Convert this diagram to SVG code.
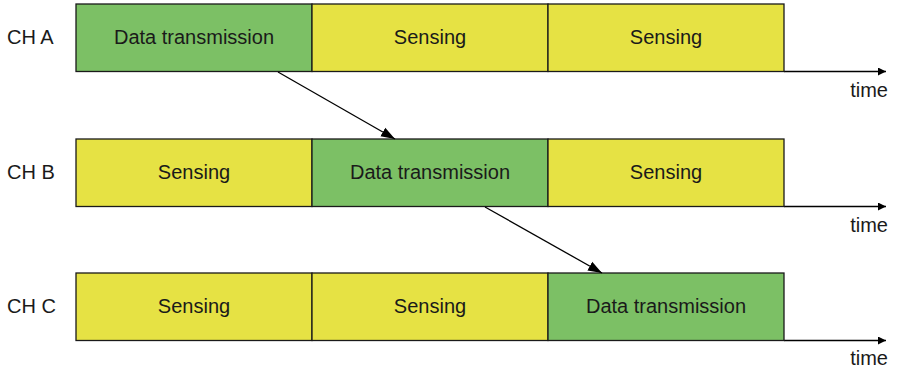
<svg xmlns="http://www.w3.org/2000/svg" width="897" height="372" viewBox="0 0 897 372">
<style>
text{font-family:"Liberation Sans",Arial,sans-serif;font-size:20px;fill:#1a1a1a}
.c{text-anchor:middle}
.g{fill:#7cc065;stroke:#1a1a1a;stroke-width:1.3}
.y{fill:#e6e244;stroke:#1a1a1a;stroke-width:1.3}
.ax{stroke:#000;stroke-width:1.5;fill:none}
.ar{stroke:#000;stroke-width:1.3;fill:none}
</style>
<defs>
<marker id="m" viewBox="0 0 10 10" refX="10" refY="5" markerWidth="8" markerHeight="8" markerUnits="userSpaceOnUse" orient="auto"><path d="M0,0L10,5L0,10z" fill="#000"/></marker>
<marker id="ma" viewBox="0 0 10 10" refX="10" refY="5" markerWidth="14" markerHeight="14" markerUnits="userSpaceOnUse" orient="auto"><path d="M0,1.5L10,5L0,8.5z" fill="#000"/></marker>
</defs>
<g id="axes">
<line class="ax" x1="784" y1="71.5" x2="886" y2="71.5" marker-end="url(#m)"/>
<line class="ax" x1="784" y1="206.5" x2="886" y2="206.5" marker-end="url(#m)"/>
<line class="ax" x1="784" y1="340.5" x2="886" y2="340.5" marker-end="url(#m)"/>
<text x="888" y="97" text-anchor="end">time</text>
<text x="888" y="232" text-anchor="end">time</text>
<text x="888" y="365" text-anchor="end">time</text>
</g>
<g id="chA">
<text x="7" y="44">CH A</text>
<rect class="g" x="76" y="4" width="236" height="67.5"/>
<rect class="y" x="312" y="4" width="236" height="67.5"/>
<rect class="y" x="548" y="4" width="236" height="67.5"/>
<text class="c" x="194" y="44">Data transmission</text>
<text class="c" x="430" y="44">Sensing</text>
<text class="c" x="666" y="44">Sensing</text>
</g>
<g id="chB">
<text x="7" y="179">CH B</text>
<rect class="y" x="76" y="139" width="236" height="67.5"/>
<rect class="g" x="312" y="139" width="236" height="67.5"/>
<rect class="y" x="548" y="139" width="236" height="67.5"/>
<text class="c" x="194" y="179">Sensing</text>
<text class="c" x="430" y="179">Data transmission</text>
<text class="c" x="666" y="179">Sensing</text>
</g>
<g id="chC">
<text x="7" y="313">CH C</text>
<rect class="y" x="76" y="273" width="236" height="67.5"/>
<rect class="y" x="312" y="273" width="236" height="67.5"/>
<rect class="g" x="548" y="273" width="236" height="67.5"/>
<text class="c" x="194" y="313">Sensing</text>
<text class="c" x="430" y="313">Sensing</text>
<text class="c" x="666" y="313">Data transmission</text>
</g>
<g id="connectors">
<line class="ar" x1="278" y1="72" x2="395" y2="139" marker-end="url(#ma)"/>
<line class="ar" x1="485" y1="207" x2="602" y2="273" marker-end="url(#ma)"/>
</g>
</svg>
